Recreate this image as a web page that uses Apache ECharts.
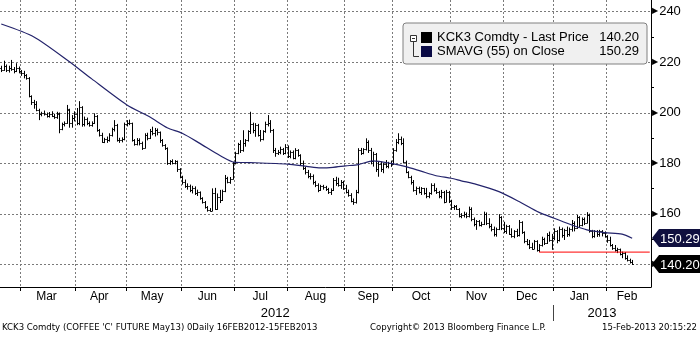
<!DOCTYPE html>
<html>
<head>
<meta charset="utf-8">
<script src="https://cdn.jsdelivr.net/npm/echarts@6/dist/echarts.min.js"></script>
<style>
  html, body { margin: 0; padding: 0; background: #fff; }
  #chart { width: 700px; height: 337px; }
</style>
</head>
<body>
<div id="chart"></div>
<script>
// Daily bars [open, high, low, close], one array per month
const feb12 = [[217.5,218.5,216,217],[217,220.5,216.5,218.5],[218.5,219,216,216.8],[216.8,218.5,215.8,217.6],[217.6,220.8,216.5,217.2],[217.2,218,215.5,216.6],[216.6,219.5,216,217.8],[217.8,218.2,215.5,216.5]];
const mar12 = [[216.5,216.8,214.5,215.5],[215.5,216.5,213.5,215],[215,215.2,213,213.8],[213.5,214,206,206.5],[206.5,206.8,203,204],[204,205,201.5,203.5],[203.5,204.5,200.5,201],[201,201.5,197,199.5],[199.5,200.3,198.5,199.8],[199.8,200.8,198.8,199.5],[199.5,200,198,198.6],[198.6,200.2,198,199.6],[199.6,200.5,198.2,198.8],[198.8,199.5,197.5,198.2],[198.2,200.3,197.5,199.8],[199.5,200,191.8,193.5],[193.5,196,193,195.4],[195.4,196.5,194.5,195.8],[196,203,195.5,201.5],[201,201.5,194,196],[196,199,194,198],[198,200.5,196.5,199.5]];
const apr12 = [[199.5,201.8,195,196],[196,204.5,195,202],[202,202.5,194.4,195.5],[195.5,198.4,194.5,197.5],[197.5,198,195,195.8],[195.8,196.5,194.4,195],[195,196.5,194.4,196],[196,199.7,195.5,198.5],[198.5,199,192.4,193],[193,193.5,190.5,191],[191,192,188,188.5],[188.5,190,187.9,189.5],[189.5,190.5,188,189],[189,191.8,188.5,191.2],[191.2,194,190.5,193.5],[193.5,197,192.5,195],[195,195.5,188.5,189],[189,190,188,189.2],[189.2,190.2,188.2,189.5],[189.5,196,189,195.5]];
const may12 = [[195.5,197,194.5,196],[196,197.2,195,195.8],[195.8,196,188.5,189],[189,189.5,186.9,187.5],[187.5,189.9,187,189.2],[189.2,189.8,187,187.8],[187.8,188.5,185.2,186],[186,191.8,185.8,191],[191,192,189,190],[190,193.5,189.5,192.5],[192.5,194.4,191,192],[192,193.9,190.5,193],[193,193.7,191,192.2],[192.2,192.5,188,189],[189,189.5,186.5,187],[187,187.5,185.2,186],[186,186.2,179.3,180],[180,181.2,179.3,180.8],[180.8,181.5,179.5,180],[180,181.2,179.5,180.8],[180.8,181,176.5,177.5],[177.5,178,174,174.5]];
const jun12 = [[174.5,175,171.5,172.5],[172.5,173.5,170.2,171],[171,172,169.5,170.8],[170.8,171.5,168.5,169.5],[169.5,171,168,170.2],[170.2,170.8,167.4,168],[168,169.5,167,168.5],[168.5,168.8,165.5,166],[166,166.5,164,164.5],[164.5,165,162,162.5],[162.5,163,160.8,161.5],[161.5,162.2,160.8,161.2],[161.2,170,161,168],[168,170.2,161.5,162],[162,168,161.5,166.5],[166.5,169.4,164.2,165.5],[165.5,169.5,165,168.8],[168.8,175.3,168.5,174],[174,174.6,172,172.5],[172.5,174.5,171.8,173.8],[173.8,180.5,173.5,180]];
const jul12 = [[180,184.5,179.5,184],[184,188,183.5,187.5],[187.5,189.1,184,185],[185,193,184.5,188],[188,189.5,186.5,189],[189,193,188.5,192.5],[192.5,200.3,191.5,195.5],[195.5,196,191.8,193],[193,195.8,190.4,195],[195,195.5,190.5,191],[191,193.1,188.5,189.5],[189.5,193,189,192.5],[192.5,196.4,192,195.5],[195.5,199,194.5,196],[196,197,192,193],[193,193.5,184,185],[185,186,182.5,184],[184,185.2,183.2,184.5],[184.5,186.5,183.5,185.5],[185.5,186,183.2,184],[184,187.5,183.5,186.5]];
const aug12 = [[186.5,187,182,183],[183,185,181.9,184.5],[184.5,185,181.5,182],[182,185.9,181.5,185],[185,185.5,182.5,183.2],[183.2,183.5,179,180],[180,181,177.3,178],[178,178.5,175.5,176.5],[176.5,177.3,174,174.8],[174.8,176,173.5,175],[175,175.5,171.5,172.5],[172.5,173,170.5,171.2],[171.2,172,168.5,169.5],[169.5,171.4,169,170.8],[170.8,171.4,169.5,170.5],[170.5,171,169,169.8],[169.8,170.2,167.8,168.5],[168.5,170,167.4,169.5],[169.5,174.1,169,173.5],[173.5,174.6,171,172],[172,174.2,170.7,171.5],[171.5,173.3,169.8,172.5],[172.5,173,169.4,170]];
const sep12 = [[170,171.4,168,168.5],[168.5,169.5,166.7,167.5],[167.5,168.1,164.5,165],[165,166,163.5,164.5],[164.5,169.4,164,168.5],[168.5,185.9,168,185],[185,186,183.2,184],[184,185.9,183.5,185.5],[185.5,189.8,185,188.5],[188.5,189,184,185],[185,186,179.5,181],[181,184.5,178.6,183.5],[183.5,184,176.5,177.5],[177.5,180.6,174.6,179.5],[179.5,180.6,176.5,177.5],[177.5,180,176,179.5],[179.5,181.2,178,178.8],[178.8,180.5,177.9,180],[180,181,178.5,179.5]];
const oct12 = [[179.5,185.9,179.3,185],[185,189.5,184.5,188.5],[188.5,191.8,187.5,189.5],[189.5,190.5,187.1,188],[188,189.8,179.9,180.5],[180.5,181,176,176.6],[176.6,176.8,174,174.5],[174.5,175,171.5,172.5],[172.5,173.3,168.7,169.5],[169.5,170.7,167.4,170],[170,170.7,168,168.5],[168.5,170.5,167.4,170],[170,170.2,167.5,168],[168,170.2,166.1,166.8],[166.8,168.5,166.1,168],[168,172,167.5,171.5],[171.5,172,168.7,169.5],[169.5,170.2,167.8,168.5],[168.5,169,166.1,166.8],[166.8,169.4,166,168.5],[168.5,169,164.1,164.8],[164.8,169.4,164.5,168.5],[168.5,169,164.2,165]];
const nov12 = [[165,165.5,161.5,162.5],[162.5,163.4,161.5,163],[163,163.4,161.5,162],[162,162.2,158.5,159],[159,160.2,158.2,159.5],[159.5,160.8,158.5,160],[160,160.5,158.2,159],[159,162.8,158.5,162],[162,162.5,157,157.8],[157.8,158.5,155,155.8],[155.8,157.5,153.6,157],[157,157.5,155,155.5],[155.5,156.8,154.9,156],[156,160.8,155.5,160],[160,160.5,155.5,156.5],[156.5,158.2,154.2,155],[155,156,153,153.8],[153.8,154.9,151,151.8],[151.8,154.5,150.9,154],[154,159.8,153.5,158.5],[158.5,159,153.5,154.5]];
const dec12 = [[154.5,156.8,152.3,153],[153,155.6,152,155],[155,155.5,151.6,152],[152,154.2,150.5,151],[151,153.5,150.3,153],[153,154,150.8,151.5],[151.5,157.5,151,156.8],[156.8,157,152,152.9],[152.9,153,148.3,149],[149,150,147.5,148],[148,149.6,146,147],[147,148.5,145.7,146.2],[146.2,149.6,146,149],[149,149.5,145,145.8],[145.8,148,144.8,147.5],[147.5,150.9,147,150],[150,150.5,147.6,148.5],[148.5,152.3,148,151.5],[151.5,152.9,148.9,149.5],[149.5,152,145.7,150.5]];
const jan13 = [[150.5,154.2,149.5,153],[153,153.5,148.3,149.5],[149.5,154.9,149,154],[154,154.5,150.5,151.5],[151.5,154,149.6,153.5],[153.5,154.9,150.8,152],[152,154.5,151,154],[154,157.5,152.9,156.5],[156.5,157,153,154.2],[154.2,159.5,154,158.5],[158.5,159,154.5,155.5],[155.5,158.5,155,158],[158,158.5,155.5,156.5],[156.5,160.6,156.2,159.5],[159.5,160,152.5,153],[153,153.6,150.3,151],[151,153.5,150.5,153],[153,153.5,150.8,152],[152,153.6,150.9,153],[153,153.5,151,152.5],[152.5,153,150.5,151]];
const feb13 = [[151,151.5,148.5,149.5],[149.5,150.9,147,147.5],[147.5,148,145.7,146.5],[146.5,147.6,145,145.5],[145.5,146.5,144.4,146],[146,146.2,143.5,144],[144,145,142.4,144.5],[144.5,144.8,141.8,142.5],[142.5,143.5,141.1,141.8],[141.8,142.2,140.3,140.8],[140.8,141.7,139.7,140.2]];

// 55-day simple moving average on close: [trading-day index, value]
const smaIdx = [0, 13, 27, 36, 50, 59, 66, 72, 79, 87, 93, 99, 114, 122, 127, 132, 137, 142, 148, 155, 161, 167, 173, 179, 183, 189, 198, 206, 214, 220, 227, 233, 240, 247, 251];
const smaVal = [235.0, 229.9, 220.2, 213.3, 203.0, 198.3, 194.0, 191.8, 187.8, 183.0, 180.3, 180.2, 179.6, 178.6, 178.1, 178.3, 178.9, 179.4, 180.9, 179.9, 178.6, 176.8, 175.0, 174.0, 173.0, 171.6, 168.7, 164.8, 160.5, 158.2, 155.5, 153.6, 152.5, 151.9, 150.29];

// Horizontal support level drawn from the December low
const supportLevel = 144.8;
const supportFrom = '2012-12-21';

// Exchange holidays inside the charted window
const holidays = ['2012-02-20','2012-04-06','2012-05-28','2012-07-04','2012-09-03','2012-11-22','2012-12-25','2013-01-01','2013-01-21','2013-02-18'];

const monthNames = ['Jan','Feb','Mar','Apr','May','Jun','Jul','Aug','Sep','Oct','Nov','Dec'];
const yTickLabels = [140, 160, 180, 200, 220, 240];
const yMinorTicks = [150, 170, 190, 210, 230];

const priceName = 'KCK3 Comdty - Last Price';
const smaName = 'SMAVG (55) on Close';
const footerLeft = "KCK3 Comdty (COFFEE 'C' FUTURE May13) 0Daily 16FEB2012-15FEB2013";
const footerMid = 'Copyright\u00A9 2013 Bloomberg Finance L.P.';
const footerRight = '15-Feb-2013 20:15:22';

// Trading-day axis: weekdays minus holidays, running a little past the last bar
const days = [];
for (let t = Date.UTC(2012, 1, 17); t <= Date.UTC(2013, 1, 27); t += 86400000) {
  const d = new Date(t);
  const wd = d.getUTCDay();
  const s = d.toISOString().slice(0, 10);
  if (wd === 0 || wd === 6 || holidays.includes(s)) continue;
  days.push(s);
}

const bars = [].concat(feb12, mar12, apr12, may12, jun12, jul12, aug12, sep12, oct12, nov12, dec12, jan13, feb13);
const ohlc = bars.map((b, i) => [i, b[0], b[1], b[2], b[3]]);
const sma = smaIdx.map((d, k) => [d, smaVal[k]]);
const lastClose = bars[bars.length - 1][3];
const lastSma = smaVal[smaVal.length - 1];
const lastIdx = bars.length - 1;

// Month and year spans along the category axis
const monthStart = [], monthMid = new Set(), yearStart = [], yearMid = new Set();
function spans(keyLen, starts, mids, minCount) {
  let first = 0;
  for (let i = 1; i <= days.length; i++) {
    if (i === days.length || days[i].slice(0, keyLen) !== days[i - 1].slice(0, keyLen)) {
      const count = i - first;
      if (first > 0) starts.push(first);
      if (count >= minCount) mids.add(first + Math.floor((count - 1) / 2));
      first = i;
    }
  }
}
spans(7, monthStart, monthMid, 12);
spans(4, yearStart, yearMid, 1);

const chart = echarts.init(document.getElementById('chart'), null, { renderer: 'canvas' });

const baseFont = 'Liberation Sans';
const narrowFont = "'Liberation Sans Narrow', 'DejaVu Sans Condensed', sans-serif";
const px = v => Math.round(v) + 0.5;

chart.setOption({
  animation: false,
  backgroundColor: '#ffffff',
  grid: { left: 0, top: 0, right: 49, bottom: 50 },
  title: [
    { text: footerLeft, left: 2, top: 323, padding: 0, textStyle: { fontSize: 9.5, fontWeight: 'normal', color: '#000', fontFamily: narrowFont } },
    { text: footerMid, left: 370, top: 323, padding: 0, textStyle: { fontSize: 9.5, fontWeight: 'normal', color: '#000', fontFamily: narrowFont } },
    { text: footerRight, right: 3, top: 323, padding: 0, textStyle: { fontSize: 9.5, fontWeight: 'normal', color: '#000', fontFamily: narrowFont } }
  ],
  legend: {
    orient: 'vertical', left: 403, top: 23,
    padding: [8, 8, 6, 18],
    backgroundColor: '#f0f0f0', borderColor: '#808080', borderWidth: 1, borderRadius: 3,
    itemWidth: 11, itemHeight: 11, itemGap: 1, icon: 'rect', selectedMode: false,
    data: [
      { name: priceName, itemStyle: { color: '#000000' } },
      { name: smaName, itemStyle: { color: '#0a0a45' } }
    ],
    formatter: name => '{n|' + name + '}{v|' + (name === priceName ? lastClose : lastSma).toFixed(2) + '}',
    textStyle: {
      rich: {
        n: { width: 166, fontSize: 13, lineHeight: 16, fontFamily: baseFont, color: '#000' },
        v: { width: 36, align: 'right', fontSize: 13, lineHeight: 16, fontFamily: baseFont, color: '#000' }
      }
    }
  },
  graphic: [
    { type: 'rect', shape: { x: 410.5, y: 35.5, width: 6, height: 6 }, style: { fill: '#fff', stroke: '#333', lineWidth: 1 }, z: 100 },
    { type: 'line', shape: { x1: 412, y1: 38.5, x2: 415, y2: 38.5 }, style: { stroke: '#333', lineWidth: 1 }, z: 100 },
    { type: 'line', shape: { x1: 413.5, y1: 41.5, x2: 413.5, y2: 56.5 }, style: { stroke: '#333', lineWidth: 1 }, z: 100 },
    { type: 'line', shape: { x1: 413.5, y1: 56.5, x2: 419, y2: 56.5 }, style: { stroke: '#333', lineWidth: 1 }, z: 100 }
  ],
  xAxis: [
    {
      type: 'category', data: days, boundaryGap: true,
      axisLine: { show: true, lineStyle: { color: '#000', width: 1 } },
      axisTick: { show: false },
      splitLine: { show: false },
      axisLabel: {
        interval: i => monthMid.has(Number(i)), margin: 4,
        formatter: v => monthNames[parseInt(v.slice(5, 7), 10) - 1],
        fontSize: 12, fontFamily: baseFont, color: '#000'
      }
    },
    {
      type: 'category', data: days, boundaryGap: true, position: 'bottom', offset: 18,
      axisLine: { show: false },
      axisTick: { show: false },
      splitLine: { show: false },
      axisLabel: {
        interval: i => yearMid.has(Number(i)), margin: 2,
        formatter: v => v.slice(0, 4),
        fontSize: 13, fontFamily: baseFont, color: '#000'
      }
    }
  ],
  yAxis: [
    {
      type: 'value', position: 'right', min: 131, max: 244.5,
      axisLine: { show: true, lineStyle: { color: '#000', width: 1 } },
      axisTick: { show: false },
      splitLine: { show: false },
      axisLabel: {
        margin: 1,
        formatter: v => yTickLabels.includes(v) ? '{a|\u25B6}{b|' + v + '}' : '',
        rich: {
          a: { fontSize: 8, color: '#000', fontFamily: 'DejaVu Sans', padding: [0, 1, 0, 0] },
          b: { fontSize: 13, color: '#000', fontFamily: baseFont }
        }
      }
    }
  ],
  series: [
    {
      // dotted grid, month ticks, year divider and minor value ticks, placed through the axes
      name: 'frame', type: 'custom', xAxisIndex: 0, yAxisIndex: 0,
      data: [[0, 200]], encode: { x: 0, y: 1 },
      clip: false, z: 3, zlevel: 0, silent: true,
      renderItem: (params, api) => {
        const cs = params.coordSys;
        const band = api.size([1, 0])[0];
        const bottom = cs.y + cs.height, right = cs.x + cs.width;
        const solid = { stroke: '#000', lineWidth: 1, fill: null };
        const kids = [];
        yTickLabels.forEach(v => {
          const y = Math.round(api.coord([0, v])[1]);
          for (let x = cs.x; x < right - 1; x += 4) {
            kids.push({ type: 'rect', shape: { x: x, y: y, width: 2, height: 1 }, style: { fill: '#7a7a7a' }, z2: 0 });
          }
        });
        monthStart.forEach(i => {
          const xr = Math.round(api.coord([i, 200])[0] - band / 2);
          for (let y = cs.y; y < bottom - 1; y += 4) {
            kids.push({ type: 'rect', shape: { x: xr, y: y, width: 1, height: 2 }, style: { fill: '#7a7a7a' }, z2: 0 });
          }
          kids.push({ type: 'line', shape: { x1: xr + 0.5, y1: bottom, x2: xr + 0.5, y2: bottom + 4 }, style: solid });
        });
        yearStart.forEach(i => {
          const x = px(api.coord([i, 200])[0] - band / 2);
          kids.push({ type: 'line', shape: { x1: x, y1: bottom + 18, x2: x, y2: bottom + 34 }, style: { stroke: '#444', lineWidth: 1 } });
        });
        yMinorTicks.forEach(v => {
          const y = px(api.coord([0, v])[1]);
          kids.push({ type: 'line', shape: { x1: right, y1: y, x2: right + 3, y2: y }, style: solid });
        });
        return { type: 'group', children: kids };
      }
    },
    {
      name: priceName, type: 'custom', xAxisIndex: 0, yAxisIndex: 0,
      itemStyle: { color: '#000' },
      encode: { x: 0, y: [1, 2, 3, 4] },
      data: ohlc,
      z: 3.5,
      renderItem: (params, api) => {
        const i = api.value(0);
        const o = api.coord([i, api.value(1)]);
        const h = api.coord([i, api.value(2)]);
        const l = api.coord([i, api.value(3)]);
        const c = api.coord([i, api.value(4)]);
        const half = api.size([1, 0])[0] * 0.5;
        const x = px(h[0]);
        const st = { stroke: '#000', lineWidth: 1 };
        const oy = px(o[1]), cy = px(c[1]);
        return {
          type: 'group',
          children: [
            { type: 'line', shape: { x1: x, y1: h[1], x2: x, y2: l[1] }, style: st },
            { type: 'line', shape: { x1: x - half, y1: oy, x2: x, y2: oy }, style: st },
            { type: 'line', shape: { x1: x, y1: cy, x2: x + half, y2: cy }, style: st }
          ]
        };
      }
    },
    {
      name: smaName, type: 'line', xAxisIndex: 0, yAxisIndex: 0,
      data: sma, showSymbol: false, symbol: 'none', smooth: 0.25,
      lineStyle: { color: '#23236b', width: 1.2 },
      itemStyle: { color: '#0a0a45' },
      z: 4
    },
    {
      name: 'support', type: 'line', xAxisIndex: 0, yAxisIndex: 0,
      data: [[supportFrom, supportLevel], [days[days.length - 1], supportLevel]],
      symbol: 'none', lineStyle: { color: '#ff0000', width: 1 },
      z: 5
    },
    {
      name: 'lastValues', type: 'custom', xAxisIndex: 0, yAxisIndex: 0,
      data: [[lastIdx, lastSma, 0], [lastIdx, lastClose, 1]],
      encode: { x: 0, y: 1 },
      clip: false, z: 10,
      renderItem: (params, api) => {
        const y = Math.round(api.coord([api.value(0), api.value(1)])[1]);
        const xr = params.coordSys.x + params.coordSys.width;
        const fill = api.value(2) === 0 ? '#10103f' : '#000000';
        return {
          type: 'group',
          children: [
            { type: 'polygon', shape: { points: [[xr + 1, y], [xr + 8, y - 9], [xr + 49, y - 9], [xr + 49, y + 9], [xr + 8, y + 9]] }, style: { fill: fill } },
            { type: 'text', style: { text: api.value(1).toFixed(2), x: xr + 9, y: y + 1, verticalAlign: 'middle', fill: '#fff', font: '13px ' + baseFont } }
          ]
        };
      }
    }
  ]
});
</script>
</body>
</html>
